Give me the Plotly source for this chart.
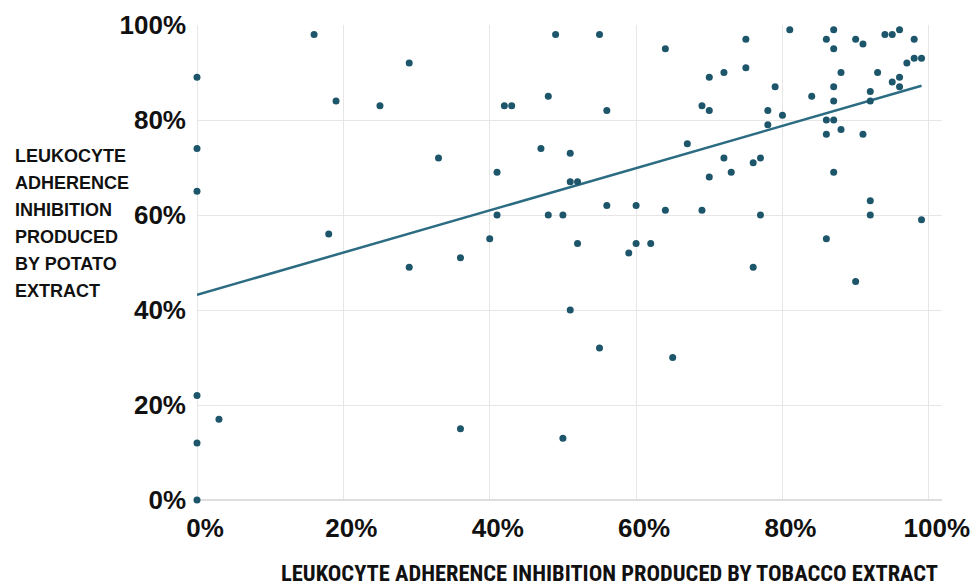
import plotly.graph_objects as go

# Leukocyte adherence inhibition (%), tobacco extract (x) vs potato extract (y)
tobacco = [0, 0, 0, 0, 0, 0, 3,
           16, 18, 19, 25, 29, 29, 33,
           36, 36, 40, 41, 41, 42, 43,
           47, 48, 48, 49, 50, 50, 51, 51, 51, 52, 52,
           55, 55, 56, 56, 59, 60, 60, 62,
           64, 64, 65, 67, 69, 69, 70, 70, 70,
           72, 72, 73, 75, 75, 76, 76, 77, 77,
           78, 78, 79, 80, 81, 84,
           86, 86, 86, 86, 87, 87, 87, 87, 87, 87,
           88, 88, 90, 90, 91, 91, 92, 92, 92, 92,
           93, 94, 95, 95, 96, 96, 96, 97, 98, 98, 99, 99]
potato = [89, 74, 65, 22, 12, 0, 17,
          98, 56, 84, 83, 92, 49, 72,
          51, 15, 55, 69, 60, 83, 83,
          74, 85, 60, 98, 60, 13, 73, 67, 40, 67, 54,
          98, 32, 82, 62, 52, 62, 54, 54,
          95, 61, 30, 75, 83, 61, 89, 82, 68,
          90, 72, 69, 97, 91, 71, 49, 72, 60,
          82, 79, 87, 81, 99, 85,
          97, 80, 77, 55, 99, 95, 87, 84, 80, 69,
          90, 78, 97, 46, 96, 77, 86, 84, 63, 60,
          90, 98, 98, 88, 99, 89, 87, 92, 97, 93, 93, 59]

# fitted trend line end points (%)
trend_tobacco = [0, 99]
trend_potato = [43.2, 87.2]

tick_vals = [0, 20, 40, 60, 80, 100]
tick_text = ["0%", "20%", "40%", "60%", "80%", "100%"]

y_title_lines = ["LEUKOCYTE", "ADHERENCE", "INHIBITION", "PRODUCED", "BY POTATO", "EXTRACT"]
x_title = "LEUKOCYTE ADHERENCE INHIBITION PRODUCED BY TOBACCO EXTRACT"

marker_color = "#1d566b"
line_color = "#2c6c82"
grid_color = "#e6e6e6"
text_color = "#111111"
label_font = "Liberation Sans, Arial, Helvetica, sans-serif"
narrow_font = "Liberation Sans Narrow, Arial Narrow, Roboto Condensed, DejaVu Sans Condensed, sans-serif"

fig = go.Figure()
fig.add_trace(go.Scatter(
    x=trend_tobacco, y=trend_potato, mode="lines",
    line=dict(color=line_color, width=2.5),
    hoverinfo="skip", showlegend=False,
))
fig.add_trace(go.Scatter(
    x=tobacco, y=potato, mode="markers",
    marker=dict(color=marker_color, size=7),
    cliponaxis=False, showlegend=False,
))

annotations = [
    dict(
        text=x_title,
        xref="paper", yref="paper", x=0.554, y=-0.154,
        xanchor="center", yanchor="middle", showarrow=False,
        font=dict(size=22.5, family=narrow_font, color=text_color, weight="bold"),
    )
]
# y-axis title, one left-aligned line at a time
for i, line in enumerate(y_title_lines):
    annotations.append(dict(
        text=line,
        xref="paper", yref="paper", x=-0.247, y=(500 - 156 - 27 * i) / 475,
        xanchor="left", yanchor="middle", showarrow=False,
        font=dict(size=18, family=label_font, color=text_color, weight="bold"),
    ))

fig.update_layout(
    width=976, height=586,
    margin=dict(l=197, r=34, t=25, b=86, autoexpand=False),
    paper_bgcolor="white", plot_bgcolor="white",
    font=dict(family=label_font, color=text_color),
    xaxis=dict(
        range=[0, 101.8], tickvals=tick_vals, ticktext=tick_text,
        showgrid=True, gridcolor=grid_color, gridwidth=1,
        zeroline=True, zerolinecolor=grid_color, zerolinewidth=1,
        showline=False, ticks="", automargin=False,
        tickfont=dict(size=26, family=label_font, color=text_color, weight="bold"),
        ticklabelshift=8, ticklabelstandoff=10,
    ),
    yaxis=dict(
        range=[0, 100], tickvals=tick_vals, ticktext=tick_text,
        showgrid=True, gridcolor=grid_color, gridwidth=1,
        zeroline=True, zerolinecolor="#dedede", zerolinewidth=2,
        showline=False, ticks="", automargin=False,
        tickfont=dict(size=26, family=label_font, color=text_color, weight="bold"),
        ticklabelstandoff=10,
    ),
    annotations=annotations,
)

fig.write_html("out.html")
